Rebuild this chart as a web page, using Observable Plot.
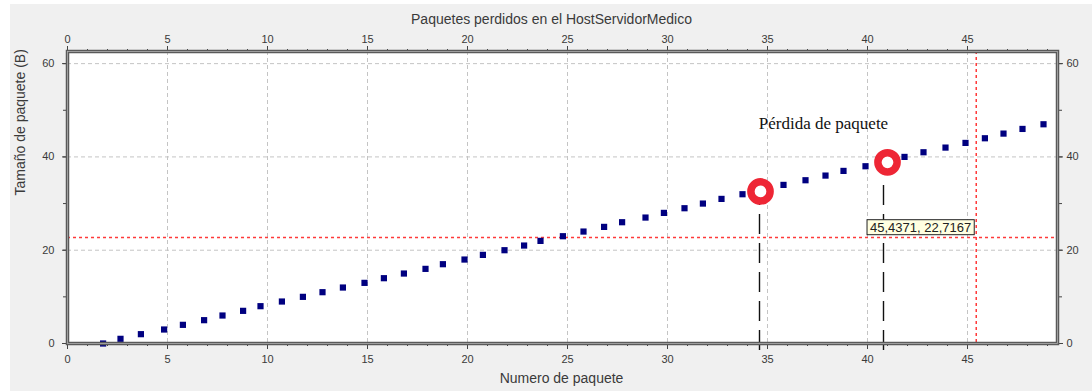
<!DOCTYPE html>
<html>
<head>
<meta charset="utf-8">
<script src="https://cdn.jsdelivr.net/npm/d3@7"></script>
<script src="https://cdn.jsdelivr.net/npm/@observablehq/plot@0.6"></script>
<style>
  html, body { margin: 0; padding: 0; background: #ffffff; }
  #chart svg { display: block; box-shadow: inset 10px 4px 0 #ffffff; }
</style>
</head>
<body>
<div id="chart"></div>
<script>
// ---- data ----
const packetX = [1.78, 2.65, 3.67, 4.83, 5.77, 6.83, 7.75, 8.78, 9.65, 10.72,
  11.77, 12.75, 13.77, 14.85, 15.82, 16.82, 17.9, 18.77, 19.85, 20.77,
  21.85, 22.83, 23.65, 24.77, 25.8, 26.83, 27.73, 28.9, 29.82, 30.85,
  31.77, 32.7, 33.75, 35.8, 36.9, 37.9, 38.8, 39.9, 41.85, 42.8,
  43.9, 44.9, 45.87, 46.8, 47.75, 48.8];
const packetSize = [0, 1, 2, 3, 4, 5, 6, 7, 8, 9,
  10, 11, 12, 13, 14, 15, 16, 17, 18, 19,
  20, 21, 22, 23, 24, 25, 26, 27, 28, 29,
  30, 31, 32, 34, 35, 36, 37, 38, 40, 41,
  42, 43, 44, 45, 46, 47];
const lossX = [34.65, 41.0];
const lossY = [32.6, 38.85];
const guideX = [34.6, 40.8];
const guideTop = [30.3, 34.8];
const guideBottom = [-1.5, -1.5];
const cursorX = 45.4371;
const cursorY = 22.7167;
const annotationText = ["Pérdida de paquete"];
const annotationX = [37.8];
const annotationY = [47.1];
const xTicks = [0, 5, 10, 15, 20, 25, 30, 35, 40, 45];
const xMinorTicks = d3.range(0, 50, 1);
const yTicks = [0, 20, 40, 60];
const yMinorTicks = [0, 10, 20, 30, 40, 50, 60];
const titleText = "Paquetes perdidos en el HostServidorMedico";
const xLabel = "Numero de paquete";
const yLabel = "Tamaño de paquete (B)";

// ---- tables ----
const points = packetX.map((x, i) => ({x, y: packetSize[i]}));
const losses = lossX.map((x, i) => ({x, y: lossY[i]}));
const guides = guideX.map((x, i) => ({x, y1: guideBottom[i], y2: guideTop[i]}));
const fmt = v => v.toFixed(4).replace(".", ",");
const tipLabel = `${fmt(cursorX)}, ${fmt(cursorY)}`;
const tips = [{x: cursorX, y: cursorY, label: tipLabel}];
const annotations = annotationText.map((t, i) => ({t, x: annotationX[i], y: annotationY[i]}));

const textColor = "#3a3a3a";
const tickFont = 11;
const crossColor = "#ff3a3a";

const chart = Plot.plot({
  width: 1092,
  height: 391,
  marginLeft: 67,
  marginRight: 35,
  marginTop: 51,
  marginBottom: 48,
  x: {domain: [0, 49.5], label: null},
  y: {domain: [0, 62.6], label: null},
  style: {background: "#f0f0f0", fontFamily: "Liberation Sans, Arial, sans-serif", fontSize: "11px", color: textColor},
  marks: [
    Plot.frame({fill: "#ffffff"}),
    // grid
    Plot.ruleX(xTicks.filter(d => d > 0), {stroke: "#c4c4c4", strokeDasharray: "4,3", strokeWidth: 1}),
    Plot.ruleY(yTicks.filter(d => d > 0), {stroke: "#c4c4c4", strokeDasharray: "4,3", strokeWidth: 1}),
    // red crosshair
    Plot.ruleY([cursorY], {stroke: crossColor, strokeDasharray: "3,3", strokeWidth: 1.5}),
    Plot.ruleX([cursorX], {stroke: crossColor, strokeDasharray: "3,3", strokeWidth: 1.5}),
    // black dashed guides
    Plot.ruleX(guides, {x: "x", y1: "y1", y2: "y2", stroke: "#111", strokeWidth: 1.4, strokeDasharray: "20,9"}),
    // data
    Plot.dot(points, {x: "x", y: "y", symbol: "square", r: 3.5, fill: "#000080", stroke: "none"}),
    Plot.dot(losses, {x: "x", y: "y", r: 9.6, fill: "#ffffff", stroke: "#ee2635", strokeWidth: 7.5}),
    Plot.text(annotations, {x: "x", y: "y", text: "t", fontFamily: "Liberation Serif, Times New Roman, serif", fontSize: 17, fill: "#111"}),
    // axes - bottom
    Plot.axisX({anchor: "bottom", ticks: xMinorTicks, tickSize: 3, tickFormat: () => "", label: null, stroke: "#444"}),
    Plot.axisX({anchor: "bottom", ticks: xTicks, tickSize: 6, tickPadding: 6, tickFormat: d => String(d), label: null, stroke: "#444", fill: textColor, fontSize: tickFont}),
    // axes - top
    Plot.axisX({anchor: "top", ticks: xMinorTicks, tickSize: 3, tickFormat: () => "", label: null, stroke: "#444"}),
    Plot.axisX({anchor: "top", ticks: xTicks, tickSize: 6, tickPadding: 3, tickFormat: d => String(d), label: null, stroke: "#444", fill: textColor, fontSize: tickFont}),
    // axes - left
    Plot.axisY({anchor: "left", ticks: yMinorTicks, tickSize: 4, tickFormat: () => "", label: null, stroke: "#444"}),
    Plot.axisY({anchor: "left", ticks: yTicks, tickSize: 5, tickPadding: 8, tickFormat: d => String(d), label: null, stroke: "#444", fill: textColor, fontSize: tickFont}),
    // axes - right
    Plot.axisY({anchor: "right", ticks: yMinorTicks, tickSize: 4, tickFormat: () => "", label: null, stroke: "#444"}),
    Plot.axisY({anchor: "right", ticks: yTicks, tickSize: 5, tickPadding: 4, tickFormat: d => String(d), label: null, stroke: "#444", fill: textColor, fontSize: tickFont}),
    // frame (double line look)
    Plot.frame({stroke: "#5a5a5a", strokeWidth: 3.5}),
    Plot.frame({stroke: "#b0b0b0", strokeWidth: 0.8}),
    // titles
    Plot.text([titleText], {frameAnchor: "top", dx: -11, dy: -37, fontSize: 14, fill: textColor}),
    Plot.text([xLabel], {frameAnchor: "bottom", dx: -1, dy: 39, fontSize: 14, fill: textColor}),
    Plot.text([yLabel], {frameAnchor: "left", dx: -47, dy: -2, rotate: -90, fontSize: 14, fill: textColor}),
    // tooltip
    Plot.text(tips, {x: "x", y: "y", text: "label", textAnchor: "end", dx: -5, dy: -10, fontSize: 13, fill: "#222"})
  ]
});

document.getElementById("chart").appendChild(chart);

// tooltip box behind the tooltip text
const tipText = Array.from(chart.querySelectorAll("text")).find(t => t.textContent === tipLabel);
if (tipText) {
  const bb = tipText.getBBox();
  const rect = document.createElementNS("http://www.w3.org/2000/svg", "rect");
  rect.setAttribute("x", bb.x - 3);
  rect.setAttribute("y", bb.y);
  rect.setAttribute("width", bb.width + 6);
  rect.setAttribute("height", bb.height);
  rect.setAttribute("fill", "#ffffe1");
  rect.setAttribute("stroke", "#222");
  rect.setAttribute("stroke-width", "1");
  const tr = tipText.getAttribute("transform");
  if (tr) rect.setAttribute("transform", tr);
  tipText.parentNode.insertBefore(rect, tipText);
}
</script>
</body>
</html>
